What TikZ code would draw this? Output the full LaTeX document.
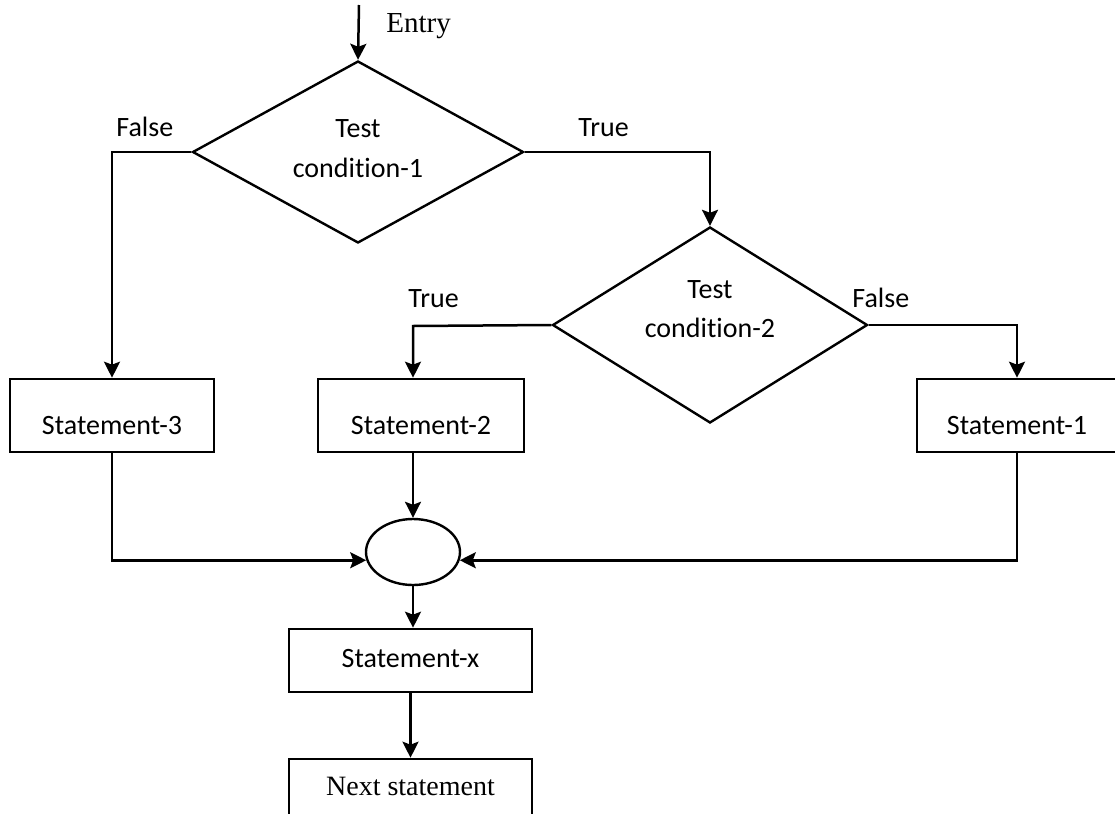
\documentclass[tikz,border=0pt]{standalone}
\usepackage{fontspec}
\setmainfont{Carlito}[Ligatures = NoCommon]
\newfontfamily\timesface{Liberation Serif}
\usetikzlibrary{calc, arrows.meta, shapes.geometric}

\begin{document}
\begin{tikzpicture}[x = 0.5pt, y = -0.5pt,
        flow/.style = {draw = black, line width = 1.25pt, -{Stealth[length = 8pt, width = 8pt, inset = 1.5pt]}},
        test/.style = {draw = black, line width = 1.2pt, diamond, inner sep = 0pt},
        stmt/.style = {draw = black, line width = 1.3pt, rectangle, inner sep = 0pt, text depth = 0pt, font = \fontsize{14}{17}\selectfont},
        txt/.style = {inner sep = 0pt, anchor = base, font = \fontsize{14}{17}\selectfont},
        lbl/.style = {inner sep = 0pt, anchor = base west, font = \fontsize{14}{17}\selectfont}]
            \useasboundingbox (0, 0) rectangle (1115, 814);
            \clip (0, 0) rectangle (1115, 814);

            \coordinate (entry_start) at (359, 5);
            \coordinate (true2_turn) at (413, 326);

            \node[test, minimum width = 165.5pt, minimum height = 91pt] (cond1) at (358, 152) {};
            \node[test, minimum width = 157.5pt, minimum height = 98pt] (cond2) at (710, 325) {};
            \node[txt] (cond1_top) at (358, 137) {Test};
            \node[txt] (cond1_bot) at (358, 177) {condition-1};
            \node[txt] (cond2_top) at (710, 298) {Test};
            \node[txt] (cond2_bot) at (710, 337) {condition-2};

            \node[stmt, minimum width = 102pt, minimum height = 36.5pt, text height = 18.5pt] (st3) at (112, 415.5) {Statement-3};
            \node[stmt, minimum width = 103pt, minimum height = 36.5pt, text height = 18.5pt] (st2) at (421, 415.5) {Statement-2};
            \node[stmt, minimum width = 100pt, minimum height = 36.5pt, text height = 18.5pt] (st1) at (1017, 415.5) {Statement-1};
            \node[draw = black, line width = 1.2pt, ellipse, inner sep = 0pt, minimum width = 47pt, minimum height = 33pt] (merge) at (413, 552) {};
            \node[stmt, minimum width = 121.5pt, minimum height = 31.5pt, text height = 6.5pt] (stx) at (410.5, 660.5) {Statement-x};
            \node[stmt, minimum width = 121.5pt, minimum height = 36pt, text height = 0pt, font = \timesface\fontsize{14}{17}\selectfont] (next) at (410.5, 795) {Next statement};

            \node[lbl, font = \timesface\fontsize{14.5}{17}\selectfont] (entry) at (386, 32) {Entry};
            \node[lbl] (false1) at (116, 136) {False};
            \node[lbl] (true1) at (578, 136) {True};
            \node[lbl] (true2) at (408, 307) {True};
            \node[lbl] (false2) at (852, 307) {False};

            \draw[flow] (entry_start) -- (cond1.north);
            \draw[flow] (cond1.west) -| (st3.north);
            \draw[flow] (cond1.east) -| (cond2.north);
            \draw[flow] (cond2.west) -- (true2_turn) -- (true2_turn |- st2.north);
            \draw[flow] (cond2.east) -| (st1.north);
            \draw[flow] (merge.north |- st2.south) -- (merge.north);
            \draw[flow] (st3.south) |- (merge.190);
            \draw[flow] (st1.south) |- (merge.350);
            \draw[flow] (merge.south) -- (merge.south |- stx.north);
            \draw[flow] (stx.south) -- (stx.south |- next.north);
        \end{tikzpicture}
\end{document}
